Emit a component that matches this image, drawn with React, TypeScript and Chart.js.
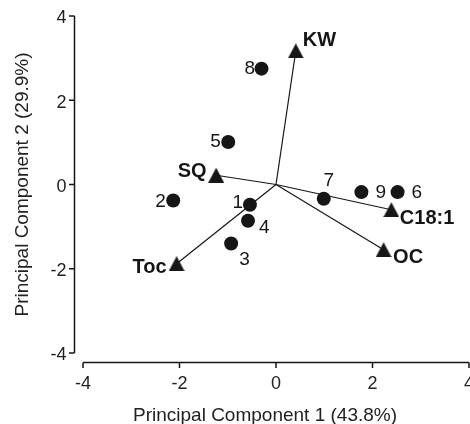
import React, { useEffect, useRef } from "react";
import { Chart, registerables } from "chart.js";
Chart.register(...registerables);

// ---- data ----
const sampleLabels = ["1", "2", "3", "4", "5", "6", "7", "8", "9"];
const sampleX = [-0.54, -2.13, -0.93, -0.58, -0.99, 2.52, 0.99, -0.3, 1.77];
const sampleY = [-0.48, -0.38, -1.4, -0.86, 1.01, -0.18, -0.34, 2.75, -0.18];

const variableLabels = ["KW", "SQ", "C18:1", "OC", "Toc"];
const variableX = [0.41, -1.24, 2.39, 2.23, -2.06];
const variableY = [3.17, 0.22, -0.6, -1.55, -1.88];

const xTicks = [-4, -2, 0, 2, 4];
const yTicks = [-4, -2, 0, 2, 4];
const xTitle = "Principal Component 1 (43.8%)";
const yTitle = "Principal Component 2 (29.9%)";

// ---- label placement (pixel offsets from the mark) ----
type Place = { dx: number; dy: number; align: CanvasTextAlign };
const samplePlace: Place[] = [
  { dx: -7, dy: -3, align: "right" },
  { dx: -7.5, dy: 0, align: "right" },
  { dx: 8, dy: 15, align: "left" },
  { dx: 11, dy: 6, align: "left" },
  { dx: -7.5, dy: -1, align: "right" },
  { dx: 14, dy: -1, align: "left" },
  { dx: 5, dy: -19, align: "center" },
  { dx: -6.5, dy: -1.5, align: "right" },
  { dx: 14, dy: -1, align: "left" },
];
const variablePlace: Place[] = [
  { dx: 7, dy: -12.5, align: "left" },
  { dx: -9.5, dy: -5, align: "right" },
  { dx: 8.5, dy: 7, align: "left" },
  { dx: 9.5, dy: 6, align: "left" },
  { dx: -10, dy: 2.5, align: "right" },
];

const FONT = '"Liberation Sans", Arial, Helvetica, sans-serif';
const INK = "#161616";

function capText(
  ctx: CanvasRenderingContext2D,
  text: string,
  x: number,
  cy: number,
  size: number,
  align: CanvasTextAlign
) {
  ctx.textAlign = align;
  ctx.textBaseline = "alphabetic";
  ctx.fillText(text, x, cy + 0.358 * size);
}

function makeTriangle(): HTMLCanvasElement {
  const c = document.createElement("canvas");
  c.width = 16;
  c.height = 15;
  const g = c.getContext("2d")!;
  g.fillStyle = INK;
  g.beginPath();
  g.moveTo(8, 0);
  g.lineTo(16, 15);
  g.lineTo(0, 15);
  g.closePath();
  g.fill();
  return c;
}

const biplotPlugin = {
  id: "biplotDecor",
  afterDatasetsDraw(chart: any) {
    const ctx: CanvasRenderingContext2D = chart.ctx;
    const xs = chart.scales.x;
    const ys = chart.scales.y;
    ctx.save();
    ctx.fillStyle = INK;
    ctx.font = `19px ${FONT}`;
    sampleLabels.forEach((t, i) => {
      const p = samplePlace[i];
      const px = xs.getPixelForValue(sampleX[i]);
      const py = ys.getPixelForValue(sampleY[i]);
      capText(ctx, t, px + p.dx, py + p.dy, 18, p.align);
    });
    ctx.font = `bold 20px ${FONT}`;
    variableLabels.forEach((t, i) => {
      const p = variablePlace[i];
      const px = xs.getPixelForValue(variableX[i]);
      const py = ys.getPixelForValue(variableY[i]);
      capText(ctx, t, px + p.dx, py + p.dy, 20, p.align);
    });
    ctx.restore();
  },
  afterDraw(chart: any) {
    const ctx: CanvasRenderingContext2D = chart.ctx;
    const xs = chart.scales.x;
    const ys = chart.scales.y;
    ctx.save();
    ctx.strokeStyle = INK;
    ctx.fillStyle = INK;
    ctx.lineWidth = 1.5;
    // y axis (offset left of the plot area)
    const ax = Math.round(xs.left - 9) + 0.5;
    const yTop = ys.getPixelForValue(yTicks[yTicks.length - 1]);
    const yBot = ys.getPixelForValue(yTicks[0]);
    ctx.beginPath();
    ctx.moveTo(ax, yTop);
    ctx.lineTo(ax, yBot);
    yTicks.forEach((v) => {
      const py = ys.getPixelForValue(v);
      ctx.moveTo(ax - 5.5, py);
      ctx.lineTo(ax, py);
    });
    ctx.stroke();
    // x axis (offset below the plot area)
    const ay = Math.round(ys.bottom + 9) + 0.5;
    const xL = xs.getPixelForValue(xTicks[0]);
    const xR = xs.getPixelForValue(xTicks[xTicks.length - 1]);
    ctx.beginPath();
    ctx.moveTo(xL, ay);
    ctx.lineTo(xR, ay);
    xTicks.forEach((v) => {
      const px = xs.getPixelForValue(v);
      ctx.moveTo(px, ay);
      ctx.lineTo(px, ay + 5.5);
    });
    ctx.stroke();
    // tick labels
    ctx.fillStyle = "#222";
    ctx.font = `18px ${FONT}`;
    yTicks.forEach((v) => {
      capText(ctx, String(v), ax - 8, ys.getPixelForValue(v) + 1, 18, "right");
    });
    xTicks.forEach((v) => {
      capText(ctx, String(v), xs.getPixelForValue(v), ay + 20.5, 18, "center");
    });
    // titles
    ctx.font = `19px ${FONT}`;
    capText(ctx, xTitle, 265, 414.5, 18, "center");
    ctx.translate(21.5, (yTop + yBot) / 2);
    ctx.rotate(-Math.PI / 2);
    capText(ctx, yTitle, 0, 0, 18, "center");
    ctx.restore();
  },
};

export default function App() {
  const ref = useRef<HTMLCanvasElement | null>(null);
  useEffect(() => {
    if (!ref.current) return;
    const tri = makeTriangle();
    const lineSets = variableLabels.map((lab, i) => ({
      type: "scatter" as const,
      label: lab + " loading",
      data: [
        { x: 0, y: 0 },
        { x: variableX[i], y: variableY[i] },
      ],
      showLine: true,
      borderColor: INK,
      borderWidth: 1.2,
      pointRadius: 0,
      order: 3,
    }));
    const chart = new Chart(ref.current, {
      type: "scatter",
      data: {
        datasets: [
          ...lineSets,
          {
            label: "Samples",
            data: sampleX.map((x, i) => ({ x, y: sampleY[i] })),
            pointStyle: "circle",
            pointRadius: 7,
            backgroundColor: INK,
            borderColor: INK,
            borderWidth: 0,
            order: 1,
          },
          {
            label: "Variables",
            data: variableX.map((x, i) => ({ x, y: variableY[i] })),
            pointStyle: tri as any,
            pointRadius: 8,
            backgroundColor: INK,
            borderColor: INK,
            order: 0,
          },
        ] as any,
      },
      options: {
        animation: false,
        responsive: false,
        events: [],
        layout: { autoPadding: false, padding: { left: 83, right: 1, top: 16, bottom: 71 } },
        plugins: {
          legend: { display: false },
          tooltip: { enabled: false },
        },
        scales: {
          x: { type: "linear", min: -4, max: 4, display: false },
          y: { type: "linear", min: -4, max: 4, display: false },
        },
      },
      plugins: [biplotPlugin],
    });
    return () => chart.destroy();
  }, []);
  return (
    <div style={{ position: "fixed", left: 0, top: 0, width: 470, height: 424, background: "#fff" }}>
      <canvas ref={ref} width={470} height={424} style={{ display: "block" }} />
    </div>
  );
}
